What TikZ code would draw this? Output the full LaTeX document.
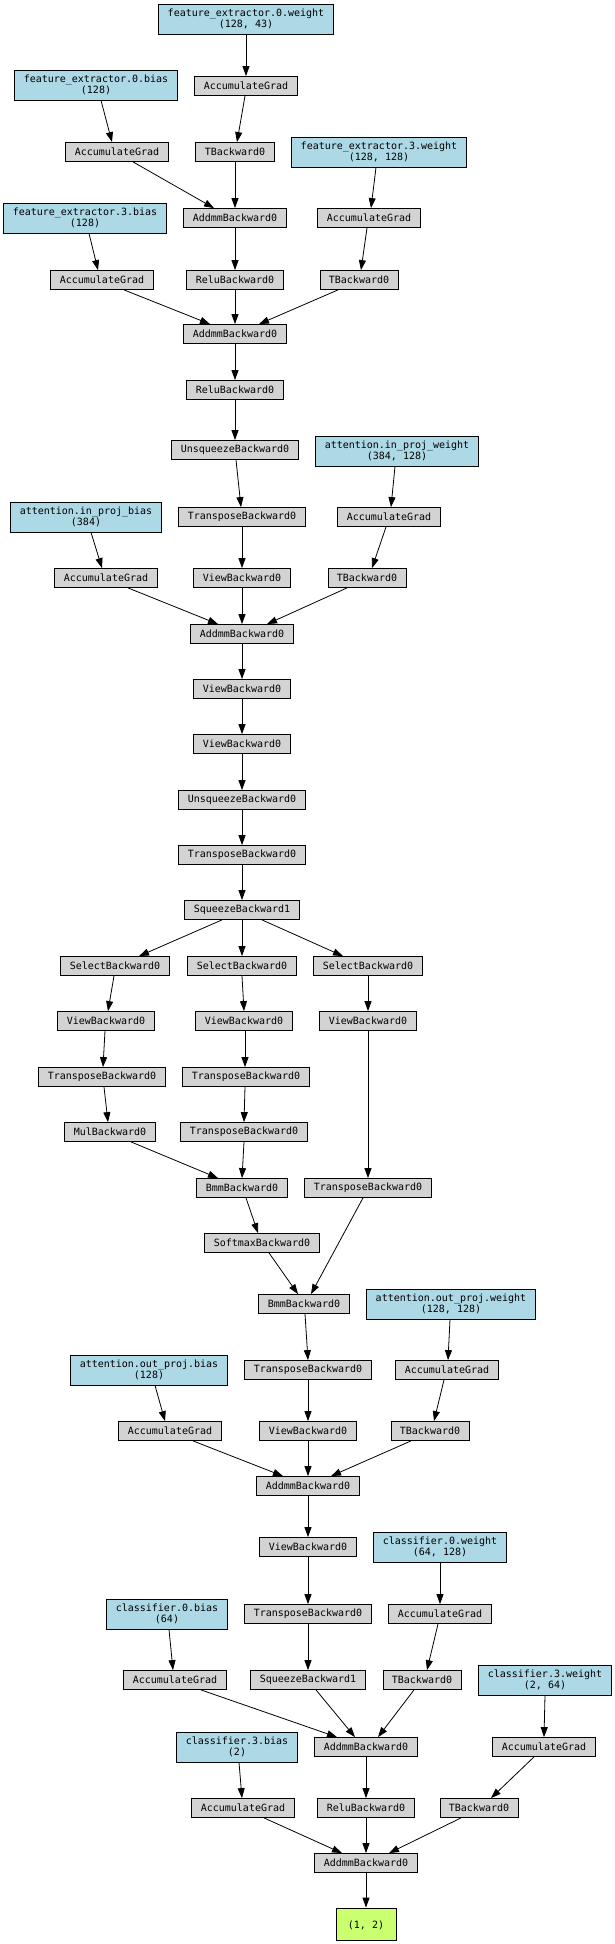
\documentclass[tikz,border=0pt]{standalone}
\usepackage{fontspec}
\setmonofont{DejaVu Sans Mono}
\usetikzlibrary{arrows.meta}
\definecolor{gfill}{HTML}{D3D3D3}
\definecolor{bfill}{HTML}{ADD8E6}
\definecolor{ofill}{HTML}{CAFF70}
\newcommand\edg[4]{\draw[edge] ([xshift=#2]#1.south) -- ([xshift=#4]#3.north);}
\begin{document}
\begin{tikzpicture}[x=1pt,y=-1pt,
  base/.style={draw=black, line width=0.8pt, font=\ttfamily\fontsize{10}{11}\selectfont, inner xsep=9pt, inner ysep=2pt, align=center},
  gbox/.style={base, fill=gfill, minimum height=19pt},
  bbox/.style={base, fill=bfill, minimum height=30pt},
  obox/.style={base, fill=ofill, minimum height=32pt, minimum width=60pt},
  edge/.style={-{Triangle[length=10pt,width=7pt]}, line width=0.8pt}]
\fill[white] (0,0) rectangle (615,1944);
\useasboundingbox (0,0) rectangle (615,1944);
% nodes
\node[bbox] (fe0w) at (246,19) {feature\_extractor.0.weight\\(128, 43)};
\node[bbox] (fe0b) at (96,85) {feature\_extractor.0.bias\\(128)};
\node[gbox] (agw0) at (246,86) {AccumulateGrad};
\node[gbox] (agb0) at (117,152) {AccumulateGrad};
\node[gbox] (tbw0) at (235,152) {TBackward0};
\node[bbox] (fe3w) at (379,152) {feature\_extractor.3.weight\\(128, 128)};
\node[bbox] (fe3b) at (85,218) {feature\_extractor.3.bias\\(128)};
\node[gbox] (addmm1) at (235,218) {AddmmBackward0};
\node[gbox] (agw3) at (369,218) {AccumulateGrad};
\node[gbox] (agb3) at (102,280) {AccumulateGrad};
\node[gbox] (relu1) at (235,280) {ReluBackward0};
\node[gbox] (tbw3) at (359,280) {TBackward0};
\node[gbox] (addmm2) at (235,334) {AddmmBackward0};
\node[gbox] (relu2) at (235,390) {ReluBackward0};
\node[gbox] (unsq1) at (235,450) {UnsqueezeBackward0};
\node[bbox] (ipw) at (397,451) {attention.in\_proj\_weight\\(384, 128)};
\node[bbox] (ipb) at (86,517) {attention.in\_proj\_bias\\(384)};
\node[gbox] (trans1) at (242,517) {TransposeBackward0};
\node[gbox] (agipw) at (389,517) {AccumulateGrad};
\node[gbox] (agipb) at (106,578) {AccumulateGrad};
\node[gbox] (view1) at (242,578) {ViewBackward0};
\node[gbox] (tbipw) at (367,578) {TBackward0};
\node[gbox] (addmm3) at (242,634) {AddmmBackward0};
\node[gbox] (view2) at (242,689) {ViewBackward0};
\node[gbox] (view3) at (242,744) {ViewBackward0};
\node[gbox] (unsq2) at (242,800) {UnsqueezeBackward0};
\node[gbox] (trans2) at (242,855) {TransposeBackward0};
\node[gbox] (sq1) at (242,910) {SqueezeBackward1};
\node[gbox] (sel1) at (115,966) {SelectBackward0};
\node[gbox] (sel2) at (242,966) {SelectBackward0};
\node[gbox] (sel3) at (368,966) {SelectBackward0};
\node[gbox] (viewL) at (106,1021) {ViewBackward0};
\node[gbox] (viewM) at (244,1021) {ViewBackward0};
\node[gbox] (viewR) at (368,1021) {ViewBackward0};
\node[gbox] (transL) at (102,1077) {TransposeBackward0};
\node[gbox] (transM) at (246,1077) {TransposeBackward0};
\node[gbox] (mul) at (110,1132) {MulBackward0};
\node[gbox] (transMM) at (244,1132) {TransposeBackward0};
\node[gbox] (bmm1) at (242,1188) {BmmBackward0};
\node[gbox] (transR) at (368,1188) {TransposeBackward0};
\node[gbox] (softmax) at (262,1243) {SoftmaxBackward0};
\node[gbox] (bmm2) at (304,1304) {BmmBackward0};
\node[bbox] (opw) at (451,1304) {attention.out\_proj.weight\\(128, 128)};
\node[bbox] (opb) at (149,1370) {attention.out\_proj.bias\\(128)};
\node[gbox] (trans3) at (308,1370) {TransposeBackward0};
\node[gbox] (agopw) at (447,1370) {AccumulateGrad};
\node[gbox] (agopb) at (170,1431) {AccumulateGrad};
\node[gbox] (view4) at (308,1431) {ViewBackward0};
\node[gbox] (tbopw) at (430,1431) {TBackward0};
\node[gbox] (addmm4) at (308,1486) {AddmmBackward0};
\node[gbox] (view5) at (308,1547) {ViewBackward0};
\node[bbox] (c0w) at (440,1547) {classifier.0.weight\\(64, 128)};
\node[bbox] (c0b) at (167,1614) {classifier.0.bias\\(64)};
\node[gbox] (trans4) at (308,1614) {TransposeBackward0};
\node[gbox] (agc0w) at (440,1614) {AccumulateGrad};
\node[gbox] (agc0b) at (175,1680) {AccumulateGrad};
\node[gbox] (sq2) at (308,1680) {SqueezeBackward1};
\node[gbox] (tbc0w) at (422,1680) {TBackward0};
\node[bbox] (c3w) at (545,1680) {classifier.3.weight\\(2, 64)};
\node[bbox] (c3b) at (237,1747) {classifier.3.bias\\(2)};
\node[gbox] (addmm5) at (366,1747) {AddmmBackward0};
\node[gbox] (agc3w) at (544,1747) {AccumulateGrad};
\node[gbox] (agc3b) at (243,1808) {AccumulateGrad};
\node[gbox] (relu3) at (366,1808) {ReluBackward0};
\node[gbox] (tbc3w) at (479,1808) {TBackward0};
\node[gbox] (addmm6) at (366,1863) {AddmmBackward0};
\node[obox] (out) at (366,1924) {\mbox{}\\(1, 2)};
% edges
\edg{fe0w}{0}{agw0}{0}
\edg{agw0}{-1}{tbw0}{2}
\edg{fe0b}{5}{agb0}{-5}
\edg{agb0}{16}{addmm1}{-21}
\edg{tbw0}{0}{addmm1}{0}
\edg{fe3w}{-3}{agw3}{2}
\edg{fe3b}{4}{agb3}{-4}
\edg{addmm1}{0}{relu1}{0}
\edg{agw3}{-2}{tbw3}{2}
\edg{agb3}{22}{addmm2}{-25}
\edg{relu1}{0}{addmm2}{0}
\edg{tbw3}{-21}{addmm2}{24}
\edg{addmm2}{0}{relu2}{0}
\edg{relu2}{0}{unsq1}{0}
\edg{unsq1}{1}{trans1}{-1}
\edg{ipw}{-2}{agipw}{2}
\edg{trans1}{0}{view1}{0}
\edg{ipb}{5}{agipb}{-4}
\edg{agipw}{-3}{tbipw}{5}
\edg{agipb}{22}{addmm3}{-24}
\edg{view1}{0}{addmm3}{0}
\edg{tbipw}{-20}{addmm3}{25}
\edg{addmm3}{0}{view2}{0}
\edg{view2}{0}{view3}{0}
\edg{view3}{0}{unsq2}{0}
\edg{unsq2}{0}{trans2}{0}
\edg{trans2}{0}{sq1}{0}
\edg{sq1}{-20}{sel1}{24}
\edg{sq1}{0}{sel2}{0}
\edg{sq1}{20}{sel3}{-25}
\edg{sel1}{-1}{viewL}{2}
\edg{sel2}{0}{viewM}{0}
\edg{sel3}{0}{viewR}{0}
\edg{viewL}{-1}{transL}{1}
\edg{viewM}{1}{transM}{-1}
\edg{viewR}{0}{transR}{0}
\edg{transL}{2}{mul}{-2}
\edg{transM}{-1}{transMM}{0}
\edg{mul}{21}{bmm1}{-24}
\edg{transMM}{0}{bmm1}{0}
\edg{bmm1}{4}{softmax}{-4}
\edg{softmax}{7}{bmm2}{-6}
\edg{transR}{-5}{bmm2}{7}
\edg{bmm2}{1}{trans3}{0}
\edg{opw}{-1}{agopw}{1}
\edg{opb}{6}{agopb}{-5}
\edg{trans3}{0}{view4}{0}
\edg{agopw}{-3}{tbopw}{4}
\edg{agopb}{23}{addmm4}{-25}
\edg{view4}{0}{addmm4}{0}
\edg{tbopw}{-19}{addmm4}{23}
\edg{addmm4}{0}{view5}{0}
\edg{view5}{0}{trans4}{0}
\edg{c0w}{0}{agc0w}{0}
\edg{c0b}{2}{agc0b}{-2}
\edg{trans4}{0}{sq2}{0}
\edg{agc0w}{-2}{tbc0w}{5}
\edg{agc0b}{26}{addmm5}{-29}
\edg{sq2}{8}{addmm5}{-11}
\edg{tbc0w}{-8}{addmm5}{12}
\edg{c3w}{0}{agc3w}{0}
\edg{c3b}{2}{agc3b}{-1}
\edg{addmm5}{0}{relu3}{0}
\edg{agc3w}{-10}{tbc3w}{12}
\edg{agc3b}{21}{addmm6}{-24}
\edg{relu3}{0}{addmm6}{0}
\edg{tbc3w}{-18}{addmm6}{23}
\edg{addmm6}{0}{out}{0}
\end{tikzpicture}
\end{document}
